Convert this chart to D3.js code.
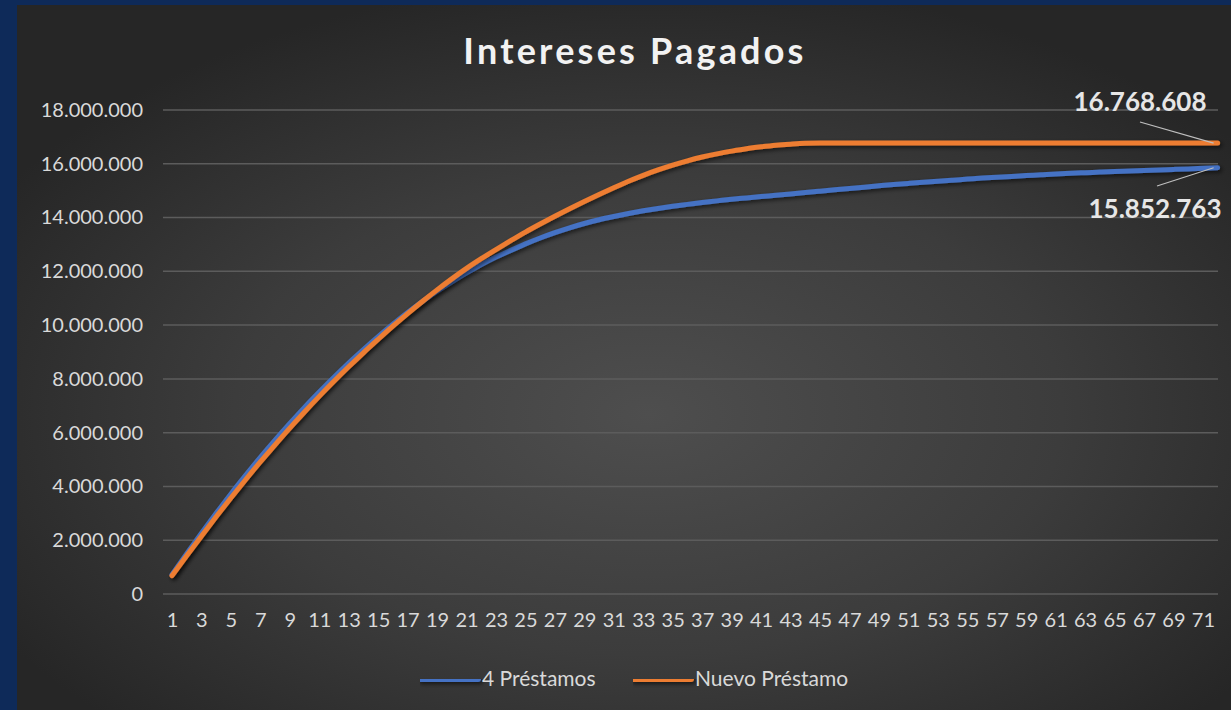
<!DOCTYPE html>
<html>
<head>
<meta charset="utf-8">
<script src="https://cdn.jsdelivr.net/npm/d3@7"></script>
<style>
  html, body { margin: 0; padding: 0; background: #0e2a59; }
  svg { display: block; }
</style>
</head>
<body>
<div id="chart"></div>
<script>
var width = 1231;
var height = 710;

// meses 1..72
var months = d3.range(1, 73);

var seriesNames = ["4 Préstamos", "Nuevo Préstamo"];
var seriesColors = ["#4472c4", "#ed7d31"];

// intereses acumulados, 4 préstamos
var cuatroPrestamos = [
  720000, 1500000, 2260000, 3000000, 3720000, 4410000, 5080000, 5720000, 6340000, 6940000,
  7510000, 8060000, 8590000, 9090000, 9570000, 10030000, 10470000, 10880000, 11260000, 11610000,
  11940000, 12250000, 12530000, 12780000, 13020000, 13240000, 13440000, 13620000, 13780000, 13920000,
  14040000, 14150000, 14250000, 14340000, 14420000, 14490000, 14560000, 14620000, 14680000, 14730000,
  14780000, 14830000, 14880000, 14930000, 14980000, 15030000, 15080000, 15130000, 15180000, 15230000,
  15270000, 15310000, 15350000, 15390000, 15430000, 15470000, 15500000, 15530000, 15560000, 15590000,
  15620000, 15650000, 15670000, 15690000, 15710000, 15730000, 15750000, 15770000, 15790000, 15810000,
  15830000, 15852763
];

// intereses acumulados, nuevo préstamo
var nuevoPrestamo = [
  680000, 1420000, 2150000, 2870000, 3570000, 4250000, 4910000, 5550000, 6170000, 6770000,
  7350000, 7910000, 8450000, 8970000, 9470000, 9960000, 10430000, 10880000, 11310000, 11720000,
  12110000, 12470000, 12810000, 13140000, 13460000, 13760000, 14050000, 14330000, 14600000, 14860000,
  15110000, 15350000, 15570000, 15770000, 15950000, 16110000, 16250000, 16370000, 16470000, 16560000,
  16630000, 16690000, 16730000, 16760000, 16768608, 16768608, 16768608, 16768608, 16768608, 16768608,
  16768608, 16768608, 16768608, 16768608, 16768608, 16768608, 16768608, 16768608, 16768608, 16768608,
  16768608, 16768608, 16768608, 16768608, 16768608, 16768608, 16768608, 16768608, 16768608, 16768608,
  16768608, 16768608
];

var yTicks = [0, 2000000, 4000000, 6000000, 8000000, 10000000, 12000000, 14000000, 16000000, 18000000];

var locale = d3.formatLocale({ decimal: ",", thousands: ".", grouping: [3], currency: ["$", ""] });
var fmt = locale.format(",d");

var svg = d3.select("#chart").append("svg")
  .attr("width", width)
  .attr("height", height);

var defs = svg.append("defs");
var grad = defs.append("radialGradient")
  .attr("id", "bg")
  .attr("cx", "52%").attr("cy", "58%").attr("r", "62%");
grad.append("stop").attr("offset", "0%").attr("stop-color", "#4e4e4e");
grad.append("stop").attr("offset", "55%").attr("stop-color", "#3c3c3c");
grad.append("stop").attr("offset", "100%").attr("stop-color", "#262626");

// sombra en coordenadas de usuario, así funciona también con líneas horizontales
var shadow = defs.append("filter").attr("id", "shadow")
  .attr("filterUnits", "userSpaceOnUse")
  .attr("x", 0).attr("y", 0).attr("width", width).attr("height", height);
shadow.append("feDropShadow")
  .attr("dx", 2).attr("dy", 2).attr("stdDeviation", 2)
  .attr("flood-color", "#000").attr("flood-opacity", 0.6);

// fondo del gráfico
svg.append("rect")
  .attr("x", 17).attr("y", 5)
  .attr("width", width - 17).attr("height", height - 5)
  .attr("fill", "url(#bg)");

var x = d3.scalePoint().domain(months).range([164.6, 1225]).padding(0.5);
var y = d3.scaleLinear().domain([0, 18000000]).range([594, 110]);

// líneas de división
svg.append("g")
  .selectAll("line")
  .data(yTicks)
  .enter()
  .append("line")
  .attr("x1", 163)
  .attr("x2", 1218)
  .attr("y1", function (d) { return y(d); })
  .attr("y2", function (d) { return y(d); })
  .style("stroke", "#5c5c5c")
  .style("stroke-width", 1.5);

// eje Y
var yAxis = svg.append("g")
  .attr("transform", "translate(143,0)")
  .call(d3.axisLeft(y).tickValues(yTicks).tickSize(0).tickPadding(0).tickFormat(fmt));
yAxis.select(".domain").remove();
yAxis.selectAll("text")
  .style("font-family", "Lato, sans-serif")
  .style("font-size", "20px")
  .style("fill", "#d9d9d9");

// eje X
var xAxis = svg.append("g")
  .attr("transform", "translate(0,613)")
  .call(d3.axisBottom(x).tickValues(months.filter(function (d) { return d % 2 == 1; })).tickSize(0).tickPadding(0));
xAxis.select(".domain").remove();
xAxis.selectAll("text")
  .style("font-family", "Lato, sans-serif")
  .style("font-size", "20px")
  .style("fill", "#d9d9d9");

// series
var series = [cuatroPrestamos, nuevoPrestamo];
var line = d3.line()
  .x(function (d, i) { return x(months[i]); })
  .y(function (d) { return y(d); })
  .curve(d3.curveMonotoneX);

svg.append("g")
  .selectAll("path")
  .data(series)
  .enter()
  .append("path")
  .attr("d", line)
  .attr("fill", "none")
  .attr("stroke", function (d, i) { return seriesColors[i]; })
  .attr("stroke-width", 5)
  .attr("stroke-linecap", "round")
  .attr("stroke-linejoin", "round")
  .attr("filter", "url(#shadow)");

// título
svg.append("text")
  .attr("x", 635)
  .attr("y", 64)
  .attr("text-anchor", "middle")
  .style("font-family", "Lato, sans-serif")
  .style("font-size", "36px")
  .style("font-weight", "bold")
  .style("letter-spacing", "3.2px")
  .style("fill", "#f2f2f2")
  .text("Intereses Pagados");

// etiquetas de datos finales
var last = months.length - 1;
var labels = [
  { v: nuevoPrestamo[last], tx: 1140, ty: 111, lx: 1140, ly: 122 },
  { v: cuatroPrestamos[last], tx: 1155, ty: 218, lx: 1157, ly: 186 }
];
svg.append("g")
  .selectAll("line")
  .data(labels)
  .enter()
  .append("line")
  .attr("x1", function (d) { return d.lx; })
  .attr("y1", function (d) { return d.ly; })
  .attr("x2", x(months[last]) - 4)
  .attr("y2", function (d) { return y(d.v); })
  .style("stroke", "#bfbfbf")
  .style("stroke-width", 1.2);
svg.append("g")
  .selectAll("text")
  .data(labels)
  .enter()
  .append("text")
  .attr("x", function (d) { return d.tx; })
  .attr("y", function (d) { return d.ty; })
  .attr("text-anchor", "middle")
  .style("font-family", "Lato, sans-serif")
  .style("font-size", "26px")
  .style("font-weight", "bold")
  .style("fill", "#e6e6e6")
  .text(function (d) { return fmt(d.v); });

// leyenda
var legendX = [420, 633];
var legend = svg.append("g")
  .selectAll("g")
  .data(seriesNames)
  .enter()
  .append("g")
  .attr("transform", function (d, i) { return "translate(" + legendX[i] + ",679)"; });
legend.append("line")
  .attr("x1", 0).attr("x2", 58)
  .attr("stroke", function (d, i) { return seriesColors[i]; })
  .attr("stroke-width", 6)
  .attr("stroke-linecap", "round")
  .attr("filter", "url(#shadow)");
legend.append("text")
  .attr("x", 62)
  .attr("y", 7)
  .style("font-family", "Lato, sans-serif")
  .style("font-size", "21px")
  .style("fill", "#d9d9d9")
  .text(function (d) { return d; });
</script>
</body>
</html>
